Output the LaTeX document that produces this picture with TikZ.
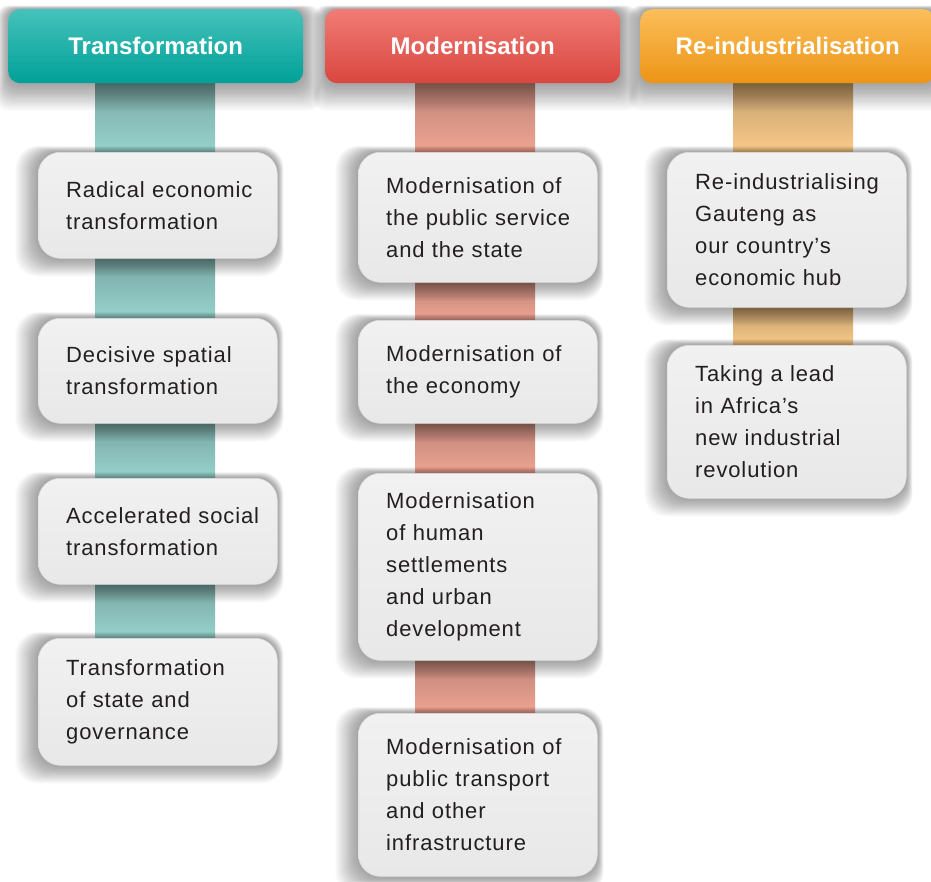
\documentclass[tikz,border=0pt]{standalone}
\usepackage{fontspec}
\setmainfont{Liberation Sans}
\newfontfamily\bodyf[LetterSpace=4]{Liberation Sans}
\usetikzlibrary{calc}
\definecolor{tealT}{HTML}{45C2BB}
\definecolor{tealM}{HTML}{00AFA7}
\definecolor{tealB}{HTML}{00A098}
\definecolor{redT}{HTML}{F07C75}
\definecolor{redM}{HTML}{E8534B}
\definecolor{redB}{HTML}{D9463F}
\definecolor{orgT}{HTML}{FBBE5A}
\definecolor{orgM}{HTML}{F7A21E}
\definecolor{orgB}{HTML}{EC9415}
\definecolor{tealL}{HTML}{98D3CE}
\definecolor{tealD}{HTML}{78A7A3}
\definecolor{redL}{HTML}{F0A492}
\definecolor{redD}{HTML}{BC8477}
\definecolor{orgL}{HTML}{FBCB89}
\definecolor{orgD}{HTML}{C09D6C}
\definecolor{boxT}{HTML}{F1F1F1}
\definecolor{boxM}{HTML}{FEFEFE}
\definecolor{boxB}{HTML}{E8E8E8}
\definecolor{boxE}{HTML}{DDDDDD}
\definecolor{txt}{HTML}{231F20}
\pgfdeclarelayer{bg}
\pgfsetlayers{bg,main}
% soft shadow: node, left, right, top, bottom spread per step, corner radius
\newcommand\softsh[6]{%
  \foreach \k in {1,...,24}{%
    \fill[black,opacity=0.014,rounded corners=#6]
      ($(#1.north west)+(-\k*#2,-\k*#4)$) rectangle
      ($(#1.south east)+(\k*#3,\k*#5)$);
  }}
\newcommand\mybox[5]{%
  \node[bx,minimum height=#4-#3] (#1) at (#2,#3) {};
  \node[tx] (#1t) at ([xshift=28pt]#1.west) {#5};
}
\begin{document}
\begin{tikzpicture}[x=1pt,y=-1pt,
  hdr/.style={rounded corners=12pt,minimum width=295pt,minimum height=74pt,inner sep=0pt,
    anchor=north west,text=white,font=\fontsize{24}{28}\selectfont\bfseries},
  hteal/.style={hdr,top color=tealT,middle color=tealM,bottom color=tealB},
  hred/.style={hdr,top color=redT,middle color=redM,bottom color=redB},
  horg/.style={hdr,top color=orgT,middle color=orgM,bottom color=orgB},
  bx/.style={rounded corners=22pt,minimum width=239pt,inner sep=0pt,anchor=north west,
    top color=boxT,middle color=boxM,bottom color=boxB,draw=boxE,line width=0.6pt},
  tx/.style={anchor=west,align=left,text width=215pt,inner sep=0pt,text=txt,
    font=\bodyf\fontsize{22}{32}\selectfont},
  barteal/.style={top color=tealD,middle color=tealL,bottom color=tealL},
  barred/.style={top color=redD,middle color=redL,bottom color=redL},
  barorg/.style={top color=orgD,middle color=orgL,bottom color=orgL}]
\useasboundingbox (0,0) rectangle (931,881);
\clip (0,0) rectangle (931,881);

% headers
\node[hteal] (h1) at (8,9) {Transformation};
\node[hred] (h2) at (325,9) {Modernisation};
\node[horg] (h3) at (640,9) {Re-industrialisation};

% column 1
\mybox{b11}{38}{152}{258}{Radical economic\\transformation}
\mybox{b12}{38}{318}{423}{Decisive spatial\\transformation}
\mybox{b13}{38}{478}{584}{Accelerated social\\transformation}
\mybox{b14}{38}{638}{765}{Transformation\\of state and\\governance}
% column 2
\mybox{b21}{358}{152}{282}{Modernisation of\\the public service\\and the state}
\mybox{b22}{358}{320}{423}{Modernisation of\\the economy}
\mybox{b23}{358}{473}{660}{Modernisation\\of human\\settlements\\and urban\\development}
\mybox{b24}{358}{713}{876}{Modernisation of\\public transport\\and other\\infrastructure}
% column 3
\mybox{b31}{667}{152}{307}{Re-industrialising\\Gauteng as\\our country’s\\economic hub}
\mybox{b32}{667}{345}{498}{Taking a lead\\in Africa’s\\new industrial\\revolution}

\coordinate (c1l) at (95,0);  \coordinate (c1r) at (215,0);
\coordinate (c2l) at (415,0); \coordinate (c2r) at (535,0);
\coordinate (c3l) at (733,0); \coordinate (c3r) at (853,0);

\begin{pgfonlayer}{bg}
  \fill[white] (0,0) rectangle (931,881);
  % connector bars
  \fill[barteal] (c1l |- h1.south) rectangle (c1r |- b11.north);
  \fill[barteal] (c1l |- b11.south) rectangle (c1r |- b12.north);
  \fill[barteal] (c1l |- b12.south) rectangle (c1r |- b13.north);
  \fill[barteal] (c1l |- b13.south) rectangle (c1r |- b14.north);
  \fill[barred] (c2l |- h2.south) rectangle (c2r |- b21.north);
  \fill[barred] (c2l |- b21.south) rectangle (c2r |- b22.north);
  \fill[barred] (c2l |- b22.south) rectangle (c2r |- b23.north);
  \fill[barred] (c2l |- b23.south) rectangle (c2r |- b24.north);
  \fill[barorg] (c3l |- h3.south) rectangle (c3r |- b31.north);
  \fill[barorg] (c3l |- b31.south) rectangle (c3r |- b32.north);
  % shadows
  \foreach \n in {h1,h2,h3}{\softsh{\n}{0.5}{0.75}{0.15}{1.15}{12pt}}
  \foreach \n in {b11,b12,b13,b14,b21,b22,b23,b24,b31,b32}{\softsh{\n}{0.95}{0.25}{0.25}{0.75}{22pt}}
\end{pgfonlayer}
\end{tikzpicture}
\end{document}
